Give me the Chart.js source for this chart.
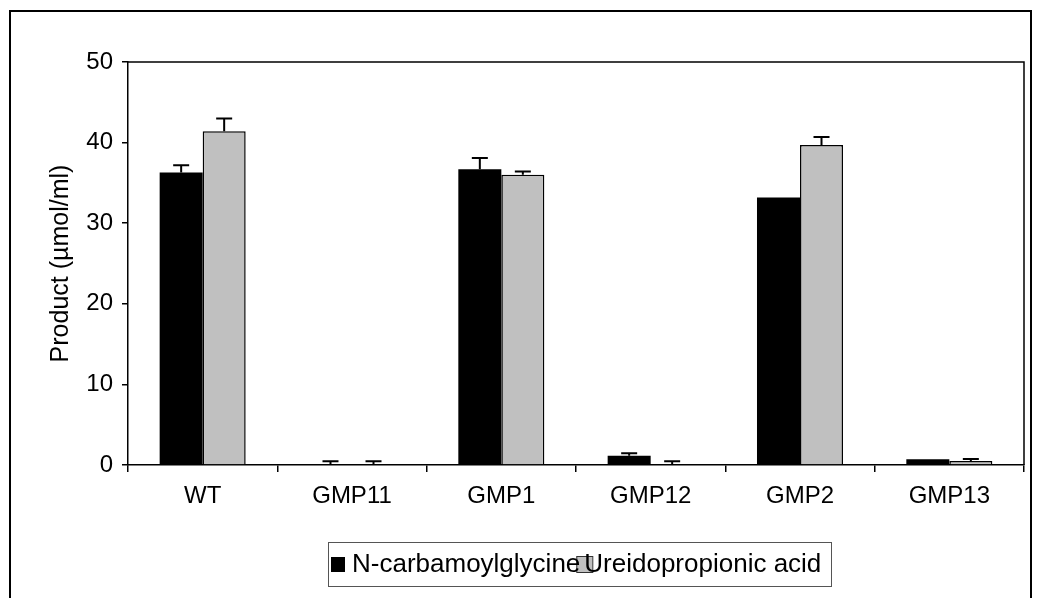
<!DOCTYPE html>
<html>
<head>
<meta charset="utf-8">
<script src="https://cdn.jsdelivr.net/npm/chart.js@4/dist/chart.umd.min.js"></script>
<style>
  html, body { margin: 0; padding: 0; background: #fff; }
  #wrap { width: 1039px; height: 598px; position: relative; }
</style>
</head>
<body>
<div id="wrap"><canvas id="chart"></canvas></div>
<script>
const strains = ['WT', 'GMP11', 'GMP1', 'GMP12', 'GMP2', 'GMP13']
const carbamoylGlycine = [36.3, 0, 36.7, 1.15, 33.2, 0.7]
const carbamoylGlycineErr = [0.9, 0.45, 1.4, 0.3, 0, 0]
const ureidopropionic = [41.4, 0, 36.0, 0, 39.7, 0.5]
const ureidopropionicErr = [1.6, 0.45, 0.4, 0.45, 1.0, 0.25]
const yTicks = [0, 10, 20, 30, 40, 50]

const FONT = "'Liberation Sans', Arial, sans-serif"
const plotRight = 1024
const plotBottom = 465

// outer frame around the whole figure plus the top/right sides of the plot box
const framePlugin = {
  id: 'frame',
  beforeDraw(chart) {
    const ctx = chart.ctx
    ctx.save()
    ctx.fillStyle = '#fff'
    ctx.fillRect(0, 0, chart.width, chart.height)
    ctx.strokeStyle = '#000'
    ctx.lineWidth = 2
    ctx.strokeRect(10, 11, 1021, 700)
    ctx.restore()
  },
  afterDraw(chart) {
    const {ctx, chartArea} = chart
    ctx.save()
    ctx.strokeStyle = '#000'
    ctx.lineWidth = 1.5
    ctx.beginPath()
    ctx.moveTo(chartArea.left, chartArea.top)
    ctx.lineTo(chartArea.right, chartArea.top)
    ctx.lineTo(chartArea.right, chartArea.bottom)
    ctx.stroke()
    ctx.restore()
  }
}

// plus-only error bars on top of each bar
const errorBarPlugin = {
  id: 'errorBars',
  afterDatasetsDraw(chart) {
    const ctx = chart.ctx
    const y = chart.scales.y
    ctx.save()
    ctx.strokeStyle = '#000'
    ctx.lineWidth = 2
    chart.data.datasets.forEach((ds, di) => {
      const meta = chart.getDatasetMeta(di)
      meta.data.forEach((bar, i) => {
        const err = ds.errors[i]
        if (!err) return
        const top = y.getPixelForValue(ds.data[i] + err)
        ctx.beginPath()
        ctx.moveTo(bar.x, bar.y)
        ctx.lineTo(bar.x, top)
        ctx.moveTo(bar.x - 8, top)
        ctx.lineTo(bar.x + 8, top)
        ctx.stroke()
      })
    })
    ctx.restore()
  }
}

// boxed legend below the plot; swatches first, labels on top
const boxLegendPlugin = {
  id: 'boxLegend',
  afterDraw(chart) {
    const ctx = chart.ctx
    const ds = chart.data.datasets
    ctx.save()
    ctx.font = '26px ' + FONT
    ctx.textBaseline = 'middle'
    const boxLeft = 328, boxTop = 542, boxW = 503, boxH = 44
    const midY = boxTop + boxH / 2
    ctx.strokeStyle = '#555'
    ctx.lineWidth = 1
    ctx.strokeRect(boxLeft + 0.5, boxTop + 0.5, boxW, boxH)

    const sw1 = boxLeft + 3
    const text1 = sw1 + 21
    const sw2 = text1 + ctx.measureText(ds[0].label).width - 4
    const text2 = sw2 + 8

    ctx.fillStyle = ds[0].backgroundColor
    ctx.fillRect(sw1, midY - 7, 14, 15)
    ctx.fillStyle = ds[1].backgroundColor
    ctx.fillRect(sw2, midY - 8, 16, 16)
    ctx.strokeStyle = '#333'
    ctx.strokeRect(sw2 + 0.5, midY - 7.5, 16, 16)

    ctx.fillStyle = '#000'
    ctx.fillText(ds[0].label, text1, midY + 1)
    ctx.fillText(ds[1].label, text2, midY + 1)
    ctx.restore()
  }
}

new Chart(document.getElementById('chart'), {
  type: 'bar',
  data: {
    labels: strains,
    datasets: [
      {
        label: 'N-carbamoylglycine',
        data: carbamoylGlycine,
        errors: carbamoylGlycineErr,
        backgroundColor: '#000000',
        borderWidth: 0,
      },
      {
        label: 'Ureidopropionic acid',
        data: ureidopropionic,
        errors: ureidopropionicErr,
        backgroundColor: '#c0c0c0',
        borderColor: '#000000',
        borderWidth: 1.5,
      },
    ],
  },
  options: {
    responsive: true,
    maintainAspectRatio: false,
    animation: false,
    events: [],
    layout: {padding: {left: 0, top: 62, right: 1039 - plotRight, bottom: 0}},
    datasets: {bar: {categoryPercentage: 0.576, barPercentage: 1}},
    plugins: {
      legend: {display: false},
      tooltip: {enabled: false},
    },
    scales: {
      x: {
        afterFit(scale) { scale.height = 598 - plotBottom },
        grid: {drawOnChartArea: false, color: '#000', tickLength: 7, lineWidth: 1.5},
        border: {color: '#000', width: 1.5},
        ticks: {color: '#000', font: {family: FONT, size: 24}, padding: 10, maxRotation: 0},
      },
      y: {
        min: 0,
        max: 50,
        afterFit(scale) { scale.width = 128 },
        afterBuildTicks(scale) { scale.ticks = yTicks.map(v => ({value: v})) },
        grid: {drawOnChartArea: false, color: '#000', tickLength: 6, lineWidth: 1.5},
        border: {color: '#000', width: 1.5},
        ticks: {color: '#000', font: {family: FONT, size: 24}, padding: 9},
        title: {
          display: true,
          text: 'Product (µmol/ml)',
          color: '#000',
          font: {family: FONT, size: 25},
          padding: {top: 46, bottom: 0},
        },
      },
    },
  },
  plugins: [framePlugin, errorBarPlugin, boxLegendPlugin],
})
</script>
</body>
</html>
